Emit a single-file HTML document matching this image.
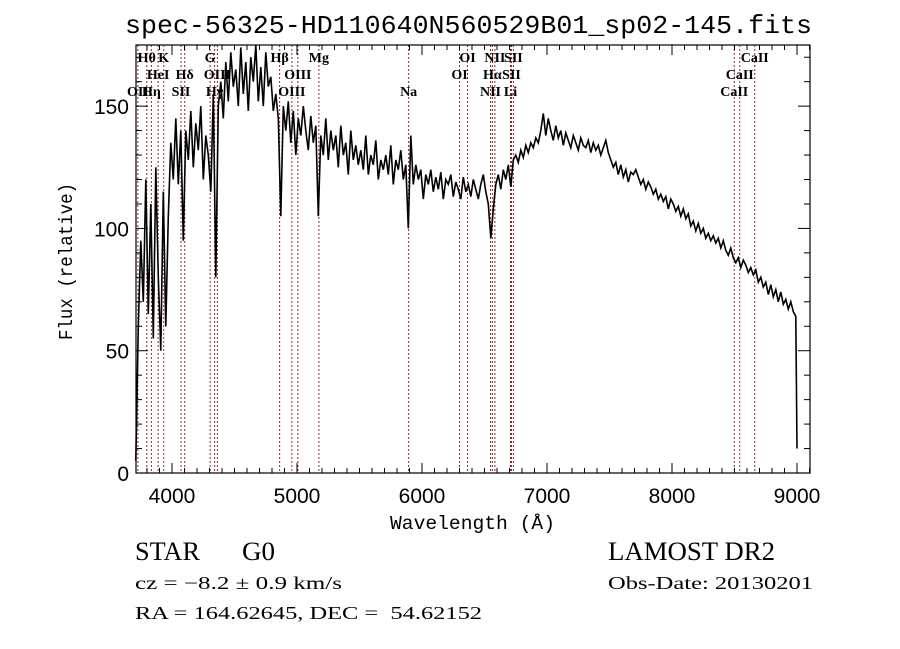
<!DOCTYPE html>
<html><head><meta charset="utf-8"><style>
html,body{margin:0;padding:0;background:#fff;}
svg{display:block;}
text{fill:#000;white-space:pre;}
</style></head><body>
<svg id="chart" width="900" height="649" viewBox="0 0 900 649" xmlns="http://www.w3.org/2000/svg" xml:space="preserve">
<rect x="0" y="0" width="900" height="649" fill="#fff"/>
<text x="125" y="33" font-family="Liberation Mono, monospace" font-size="26" textLength="687" lengthAdjust="spacingAndGlyphs">spec-56325-HD110640N560529B01_sp02-145.fits</text>
<g id="lines"></g>
<g id="labels"></g>
<g id="spec"></g>
<g id="axes"></g>
<text x="390" y="529" font-family="Liberation Mono, monospace" font-size="19" textLength="165" lengthAdjust="spacingAndGlyphs">Wavelength (Å)</text>
<text transform="translate(72,340) rotate(-90)" font-family="Liberation Mono, monospace" font-size="19" textLength="157" lengthAdjust="spacingAndGlyphs">Flux (relative)</text>
<text x="135" y="560" font-family="Liberation Serif, serif" font-size="26" textLength="65" lengthAdjust="spacingAndGlyphs">STAR</text>
<text x="242" y="560" font-family="Liberation Serif, serif" font-size="26" textLength="33" lengthAdjust="spacingAndGlyphs">G0</text>
<text x="135" y="589" font-family="Liberation Serif, serif" font-size="18" textLength="207" lengthAdjust="spacingAndGlyphs">cz = −8.2 ± 0.9 km/s</text>
<text x="135" y="619" font-family="Liberation Serif, serif" font-size="18" textLength="347" lengthAdjust="spacingAndGlyphs">RA = 164.62645, DEC =  54.62152</text>
<text x="608" y="560" font-family="Liberation Serif, serif" font-size="26" textLength="167" lengthAdjust="spacingAndGlyphs">LAMOST DR2</text>
<text x="608" y="589" font-family="Liberation Serif, serif" font-size="18" textLength="205" lengthAdjust="spacingAndGlyphs">Obs-Date: 20130201</text>
</svg>
<script>
const fluxStart = 3710;
const fluxStep = 20;
const fluxValues = [
5,60,95,70,120,65,110,55,125,80,
50,115,60,105,135,120,145,118,140,95,
140,128,148,125,143,132,150,120,138,130,
115,155,80,150,160,145,168,152,172,158,
165,150,174,155,168,148,170,160,175,152,
166,150,172,158,162,148,155,145,105,150,
140,152,135,148,130,145,138,150,140,132,
146,135,142,105,138,130,145,128,140,132,
138,125,142,130,135,122,140,128,134,126,
132,124,138,122,130,126,136,120,128,124,
130,122,134,118,128,124,132,120,126,100,
138,118,126,120,124,112,122,118,124,115,
121,116,123,112,120,118,122,113,119,116,
112,121,115,118,113,120,116,112,118,122,
115,110,96,108,118,122,116,124,120,126,
117,128,130,127,132,129,134,131,135,133,
137,135,140,147,138,145,140,136,142,137,
140,134,139,136,133,138,135,132,137,134,
133,136,131,135,132,134,130,133,136,131,
128,125,127,122,126,121,124,119,123,122,
124,121,118,120,116,119,117,114,116,112,
114,111,113,108,112,110,107,109,105,108,
104,106,101,103,99,102,98,100,96,98,
95,97,94,96,92,95,91,89,92,88,
86,88,84,87,85,82,84,81,83,78,
80,76,78,73,77,72,75,70,74,69,
71,67,70,66,64
];
const fluxEndWave = 9000;
const fluxEndValue = 10;
const lineWaves = [3727,3798,3835,3889,3934,4072,4102,4305,4341,4363,4861,4959,5007,5175,5893,6300,6364,6548,6563,6583,6708,6716,6731,8498,8542,8662];
const labelTexts = ["OII","Hθ","Hη","HeI","K","SII","Hδ","G","Hγ","OIII","Hβ","OIII","OIII","Mg","Na","OI","OI","NII","Hα","NII","Li","SII","SII","CaII","CaII","CaII"];
const labelRows = [2,0,2,1,0,2,1,0,2,1,0,2,1,0,2,1,0,2,1,0,2,1,0,2,1,0];
const xTicks = [4000,5000,6000,7000,8000,9000];
const yTicks = [0,50,100,150];

const L=136,R=810,T=45,B=473, XMIN=3712, XMAX=9104, YMIN=0, YMAX=175;
const xs = w => L + (w-XMIN)/(XMAX-XMIN)*(R-L);
const ys = v => B - (Math.min(Math.max(v,YMIN),YMAX)-YMIN)/(YMAX-YMIN)*(B-T);
const NS="http://www.w3.org/2000/svg";
function mk(tag, parent, attrs){const e=document.createElementNS(NS,tag);for(const k in attrs)e.setAttribute(k,attrs[k]);parent.appendChild(e);return e;}

const gl=document.getElementById('lines'), glab=document.getElementById('labels');
lineWaves.forEach((w,i)=>{
  const x=xs(w);
  const ln=mk('line',gl,{x1:x,x2:x,y1:T,y2:B,stroke:'#8b2a2a','stroke-width':1,'stroke-dasharray':'2,2'});
  
  
  const t=mk('text',glab,{x:x,y:62+labelRows[i]*17,'font-family':'Liberation Serif, serif','font-size':14,'font-weight':'bold','text-anchor':'middle'});
  t.textContent=labelTexts[i];
  
  
});

const gs=document.getElementById('spec');
const pts=fluxValues.map((v,i)=>xs(fluxStart+i*fluxStep).toFixed(1)+','+ys(v).toFixed(1));
pts.push(xs(fluxEndWave).toFixed(1)+','+ys(fluxEndValue).toFixed(1));
const pl=mk('polyline',gs,{points:pts.join(' '),fill:'none',stroke:'#000','stroke-width':1.6,'stroke-linejoin':'miter'});



const ga=document.getElementById('axes');
const fr=mk('rect',ga,{x:L,y:T,width:R-L,height:B-T,fill:'none',stroke:'#000','stroke-width':1.2});


for(let w=3800; w<=XMAX; w+=100){
  const x=xs(w), major=(w%1000===0), len=major?10:5;
  mk('line',ga,{x1:x,x2:x,y1:B,y2:B-len,stroke:'#000','stroke-width':1});
  mk('line',ga,{x1:x,x2:x,y1:T,y2:T+len,stroke:'#000','stroke-width':1});
}
for(let v=0; v<=YMAX; v+=10){
  const y=ys(v), major=(v%50===0), len=major?12:6;
  mk('line',ga,{x1:L,x2:L+len,y1:y,y2:y,stroke:'#000','stroke-width':1});
  mk('line',ga,{x1:R,x2:R-len,y1:y,y2:y,stroke:'#000','stroke-width':1});
}
xTicks.forEach(w=>{
  const t=mk('text',ga,{x:xs(w),y:503,'font-family':'Liberation Sans, sans-serif','font-size':21,'text-anchor':'middle'});
  t.textContent=w;
  
  
});
yTicks.forEach(v=>{
  const t=mk('text',ga,{x:129,y:ys(v)+8,'font-family':'Liberation Sans, sans-serif','font-size':21,'text-anchor':'end'});
  t.textContent=v;
  
  
});
</script>
</body></html>
